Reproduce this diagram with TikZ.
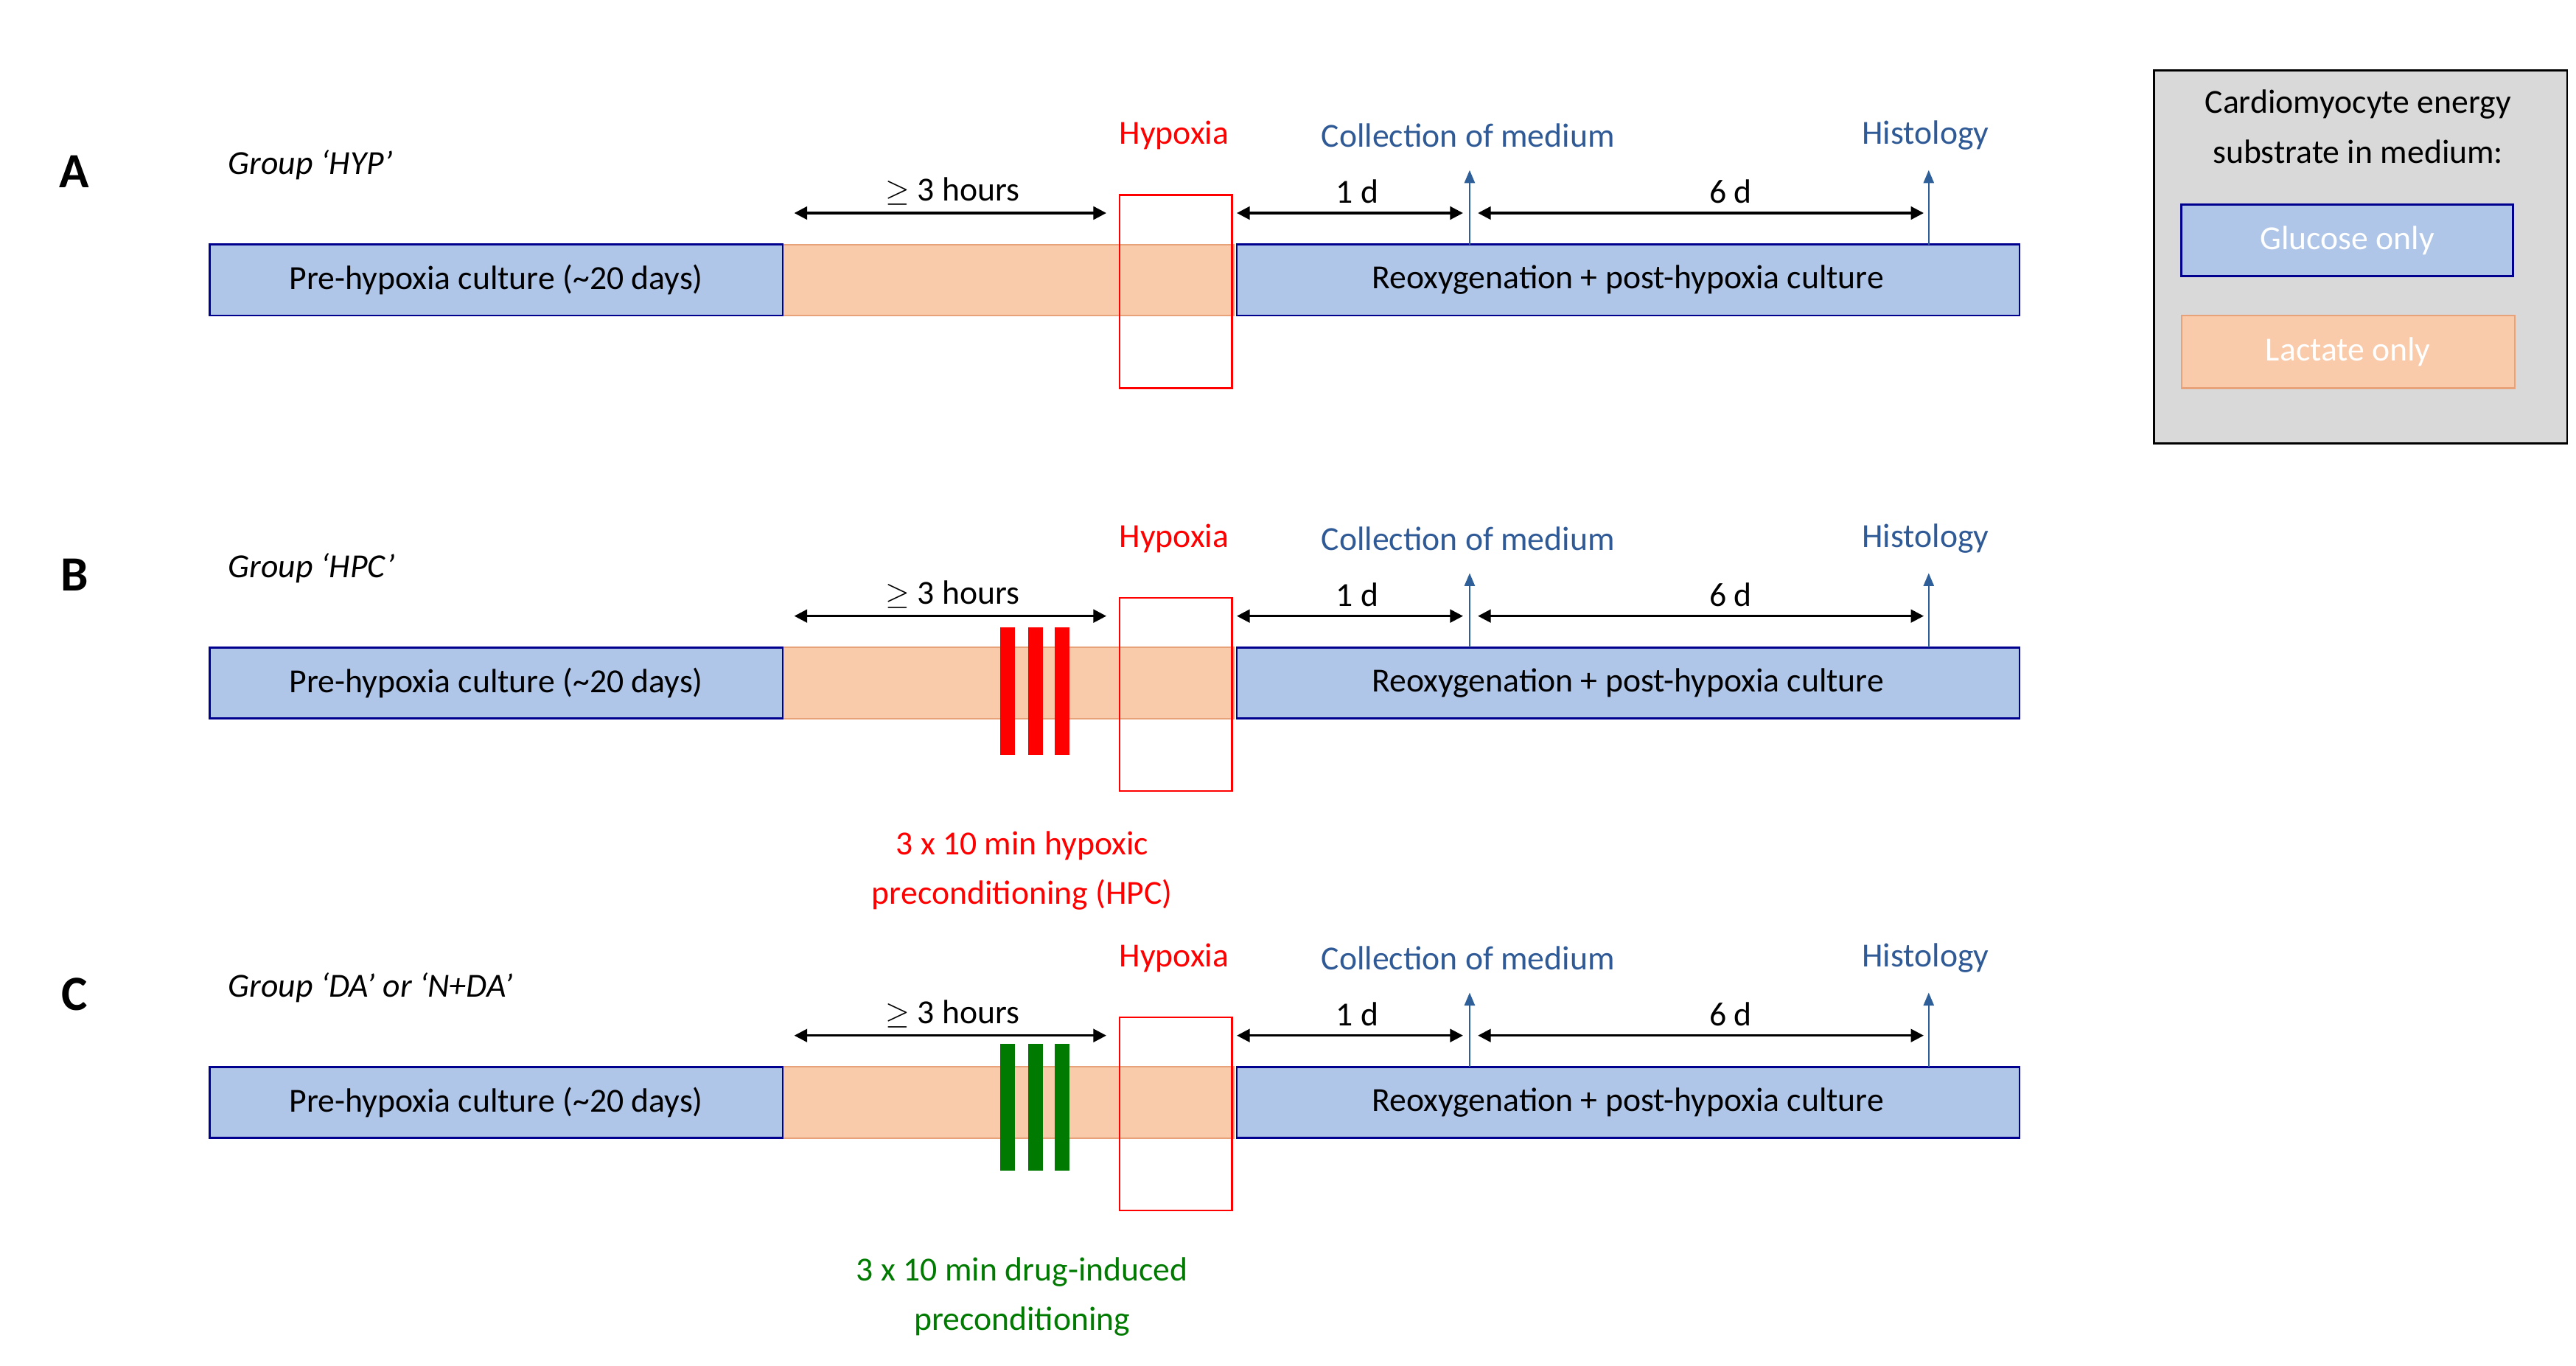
\documentclass[tikz,border=0pt]{standalone}
\usepackage{fontspec}
\setmainfont{Carlito}
\usetikzlibrary{arrows.meta}
\definecolor{bfill}{HTML}{AFC6E9}
\definecolor{bdraw}{HTML}{00008F}
\definecolor{ofill}{HTML}{FACBAA}
\definecolor{odraw}{HTML}{E8A27A}
\definecolor{tblue}{HTML}{2F5A96}
\definecolor{ablue}{HTML}{2E5F99}
\definecolor{hred}{HTML}{FF0000}
\definecolor{dgreen}{HTML}{007A00}
\tikzset{
 txt/.style={font=\fontsize{13}{15}\selectfont, inner sep=0pt},
 blu/.style={draw=bdraw, fill=bfill, line width=0.8pt},
 ora/.style={draw=odraw, fill=ofill, line width=0.6pt},
 dim/.style={{Triangle[length=5pt,width=5pt]}-{Triangle[length=5pt,width=5pt]}, line width=0.9pt},
 up/.style={-{Triangle[length=5pt,width=4pt]}, ablue, line width=0.7pt},
}
\begin{document}
\begin{tikzpicture}[x=0.0224cm,y=-0.0224cm]
\useasboundingbox (0,0) rectangle (1560,827);
% legend
\node[draw=black, fill=black!15, line width=0.8pt, minimum width=250*0.0224cm, minimum height=226*0.0224cm, anchor=north west, inner sep=0pt] (leg) at (1304,42) {};
\node[txt] (l1) at (1428,63) {Cardiomyocyte energy};
\node[txt] (l2) at (1428,92) {substrate in medium:};
\node[blu, minimum width=201*0.0224cm, minimum height=43*0.0224cm, inner sep=0pt, text=white, font=\fontsize{13}{15}\selectfont] (lg) at (1421.5,145.5) {Glucose only};
\node[ora, minimum width=202*0.0224cm, minimum height=44*0.0224cm, inner sep=0pt, text=white, font=\fontsize{13}{15}\selectfont] (ll) at (1422,213) {Lactate only};
\foreach \r/\dy/\lab/\grp in {A/0/A/{Group `HYP'}, B/244/B/{Group `HPC'}, C/498/C/{Group `DA' or `N+DA'}}{
 \begin{scope}[yshift=-\dy*0.0224cm]
 \node[font=\bfseries\fontsize{19}{21}\selectfont, inner sep=0pt] (let\r) at (45,104) {\lab};
 \node[txt, anchor=west, font=\itshape\fontsize{13}{15}\selectfont] (grp\r) at (138,100) {\grp};
 \draw[ora] (474,148) rectangle (747,191);
 \node[blu, minimum width=347*0.0224cm, minimum height=43*0.0224cm, inner sep=0pt, font=\fontsize{13}{15}\selectfont] (pre\r) at (300.5,169.5) {Pre-hypoxia culture (\textasciitilde 20 days)};
 \node[blu, minimum width=474*0.0224cm, minimum height=43*0.0224cm, inner sep=0pt, font=\fontsize{13}{15}\selectfont] (post\r) at (986,169.5) {Reoxygenation + post-hypoxia culture};
 \draw[hred, line width=0.7pt] (678,118) rectangle (746,235);
 \node[txt, text=hred] (hyp\r) at (711,82) {Hypoxia};
 \node[txt, text=tblue] (col\r) at (889,82) {Collection of medium};
 \node[txt, text=tblue] (his\r) at (1166,82) {Histology};
 \coordinate (a1\r) at (481,129); \coordinate (a2\r) at (670,129);
 \coordinate (b1\r) at (749,129); \coordinate (b2\r) at (886,129);
 \coordinate (c1\r) at (895,129); \coordinate (c2\r) at (1165,129);
 \draw[dim] (a1\r) -- (a2\r); \draw[dim] (b1\r) -- (b2\r); \draw[dim] (c1\r) -- (c2\r);
 \node[txt] (h3\r) at (577,116) {$\geq$ 3 hours};
 \node[txt] (d1\r) at (822,116) {1 d};
 \node[txt] (d6\r) at (1048,116) {6 d};
 \coordinate (u1\r) at (890,148); \coordinate (v1\r) at (890,103);
 \coordinate (u2\r) at (1168,148); \coordinate (v2\r) at (1168,103);
 \draw[up] (u1\r) -- (v1\r); \draw[up] (u2\r) -- (v2\r);
 \end{scope}
}
\foreach \x in {610,627,643}{
 \fill[hred] (\x-4.5,380) rectangle (\x+4.5,457);
 \fill[dgreen] (\x-4.5,632) rectangle (\x+4.5,709);
}
\node[txt, text=hred, align=center, font=\fontsize{13}{19}\selectfont] (hpc) at (619,527) {3 x 10 min hypoxic\\preconditioning (HPC)};
\node[txt, text=dgreen, align=center, font=\fontsize{13}{19}\selectfont] (dip) at (619,785) {3 x 10 min drug-induced\\preconditioning};
\end{tikzpicture}
\end{document}
